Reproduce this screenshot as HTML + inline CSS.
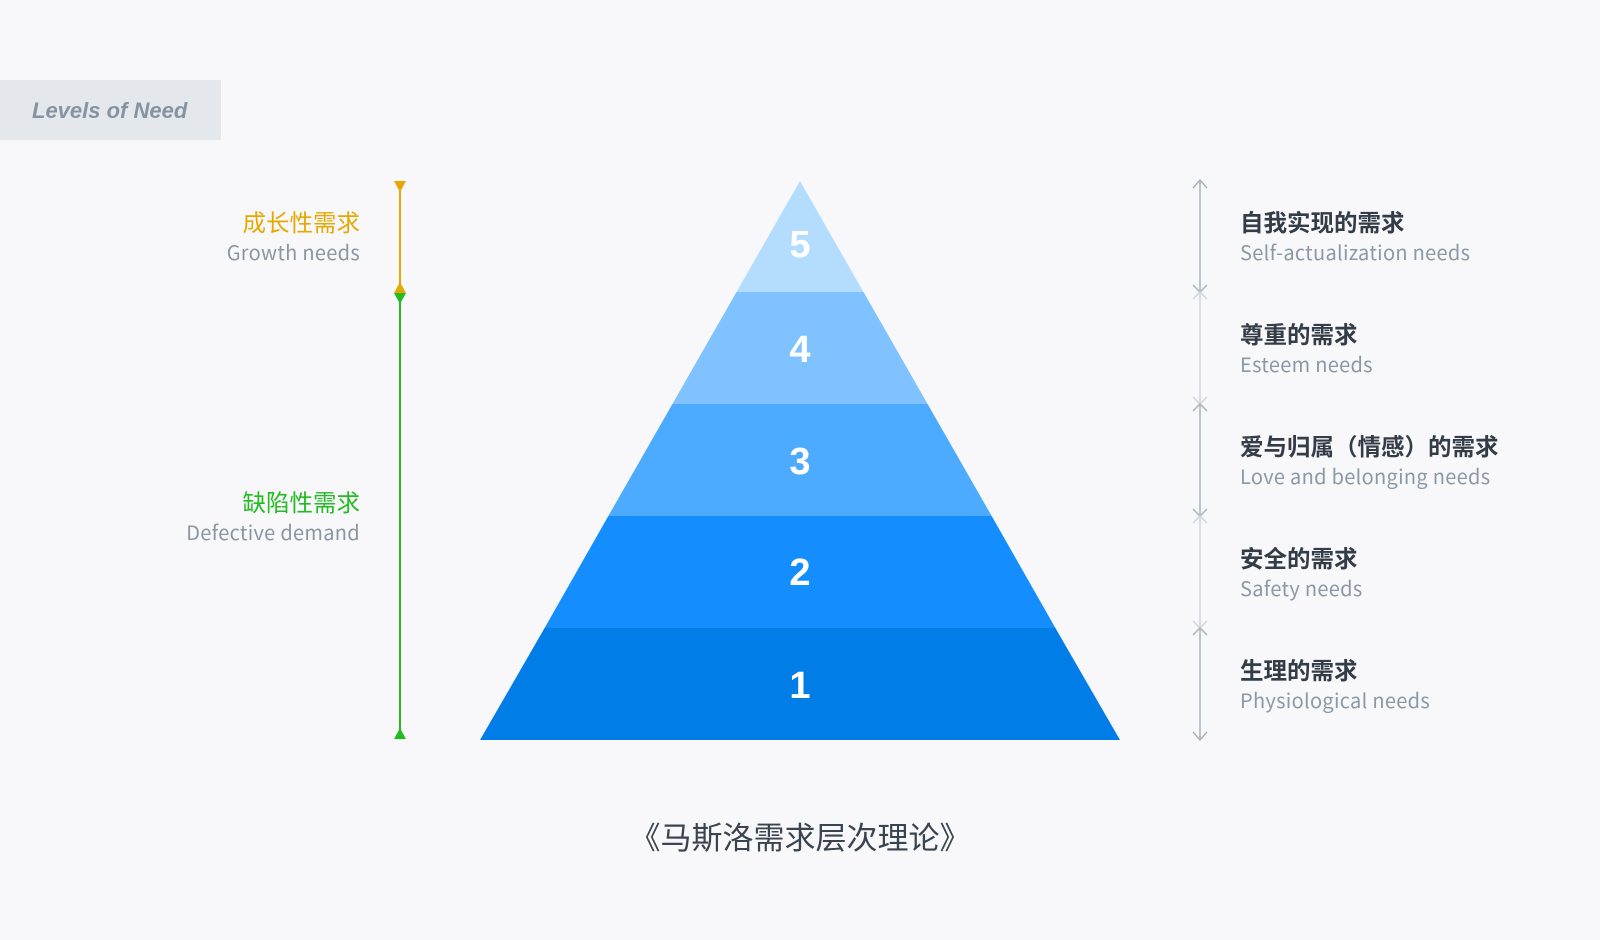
<!DOCTYPE html>
<html><head><meta charset="utf-8"><style>
html,body{margin:0;padding:0;background:#f8f8fa;}
svg{display:block}
.sub{font-family:"Noto Sans CJK SC","Liberation Sans",sans-serif;}
</style></head><body>
<svg width="1600" height="940" viewBox="0 0 1600 940" xmlns="http://www.w3.org/2000/svg" font-family="'Liberation Sans','Noto Sans CJK SC',sans-serif">
<rect width="1600" height="940" fill="#f8f8fa"/>
<rect x="0" y="80" width="221" height="60" fill="#e4e7eb"/>
<text x="32" y="118" font-size="22" font-weight="bold" font-style="italic" fill="#8593a3">Levels of Need</text>

<polygon points="800,181 863.5,292 736.5,292" fill="#b3dcff"/>
<polygon points="736.5,292 863.5,292 927.6,404 672.4,404" fill="#80c2ff"/>
<polygon points="672.4,404 927.6,404 991.7,516 608.3,516" fill="#4dabff"/>
<polygon points="608.3,516 991.7,516 1055.4,628 544.6,628" fill="#148dff"/>
<polygon points="544.6,628 1055.4,628 1120,740 480,740" fill="#007de6"/>
<g fill="#fff" font-size="38" font-weight="bold" text-anchor="middle">
<text x="800" y="257">5</text>
<text x="800" y="362">4</text>
<text x="800" y="474">3</text>
<text x="800" y="585">2</text>
<text x="800" y="698">1</text>
</g>

<line x1="400" y1="183" x2="400" y2="290" stroke="#e6a700" stroke-width="2"/>
<polygon points="394,181 406,181 400,192" fill="#e6a700"/>
<polygon points="394,293 406,293 400,282" fill="#e6a700"/>
<line x1="400" y1="293" x2="400" y2="736" stroke="#22bb22" stroke-width="2"/>
<polygon points="394,293 406,293 400,304" fill="#22bb22"/>
<polygon points="394,739 406,739 400,728" fill="#22bb22"/>
<g text-anchor="end">
<text x="360" y="231" font-size="23.5" fill="#e6a700">成长性需求</text>
<text class="sub" x="360" y="260" font-size="20" letter-spacing="0.3" fill="#8a96a3">Growth needs</text>
<text x="360" y="511" font-size="23.5" fill="#22bb22">缺陷性需求</text>
<text class="sub" x="360" y="540" font-size="20" letter-spacing="0.3" fill="#8a96a3">Defective demand</text>
</g>

<g stroke-width="1.5" fill="none">
<line x1="1200" y1="180" x2="1200" y2="292" stroke="#a9b4c0"/>
<line x1="1200" y1="292" x2="1200" y2="404" stroke="#d0d6dd"/>
<line x1="1200" y1="404" x2="1200" y2="516" stroke="#a9b4c0"/>
<line x1="1200" y1="516" x2="1200" y2="628" stroke="#d0d6dd"/>
<line x1="1200" y1="628" x2="1200" y2="740" stroke="#a9b4c0"/>
<polyline points="1193,188 1200,180 1207,188" stroke="#a9b4c0"/>
<polyline points="1193,732 1200,740 1207,732" stroke="#a9b4c0"/>
<polyline points="1193,285 1200,292 1207,285" stroke="#a9b4c0"/>
<polyline points="1193,299 1200,292 1207,299" stroke="#d0d6dd"/>
<polyline points="1193,397 1200,404 1207,397" stroke="#d0d6dd"/>
<polyline points="1193,411 1200,404 1207,411" stroke="#a9b4c0"/>
<polyline points="1193,509 1200,516 1207,509" stroke="#a9b4c0"/>
<polyline points="1193,523 1200,516 1207,523" stroke="#d0d6dd"/>
<polyline points="1193,621 1200,628 1207,621" stroke="#d0d6dd"/>
<polyline points="1193,635 1200,628 1207,635" stroke="#a9b4c0"/>
</g>
<g>
<text x="1240" y="231" font-size="23.5" font-weight="bold" fill="#333c47">自我实现的需求</text>
<text class="sub" x="1240" y="260" font-size="20" letter-spacing="0.3" fill="#8a99a8">Self-actualization needs</text>
<text x="1240" y="343" font-size="23.5" font-weight="bold" fill="#333c47">尊重的需求</text>
<text class="sub" x="1240" y="372" font-size="20" letter-spacing="0.3" fill="#8a99a8">Esteem needs</text>
<text x="1240" y="455" font-size="23.5" font-weight="bold" fill="#333c47">爱与归属（情感）的需求</text>
<text class="sub" x="1240" y="484" font-size="20" letter-spacing="0.3" fill="#8a99a8">Love and belonging needs</text>
<text x="1240" y="567" font-size="23.5" font-weight="bold" fill="#333c47">安全的需求</text>
<text class="sub" x="1240" y="596" font-size="20" letter-spacing="0.3" fill="#8a99a8">Safety needs</text>
<text x="1240" y="679" font-size="23.5" font-weight="bold" fill="#333c47">生理的需求</text>
<text class="sub" x="1240" y="708" font-size="20" letter-spacing="0.3" fill="#8a99a8">Physiological needs</text>
</g>

<text x="800" y="849" font-size="31" text-anchor="middle" fill="#3a4450">《马斯洛需求层次理论》</text>
</svg>
</body></html>
